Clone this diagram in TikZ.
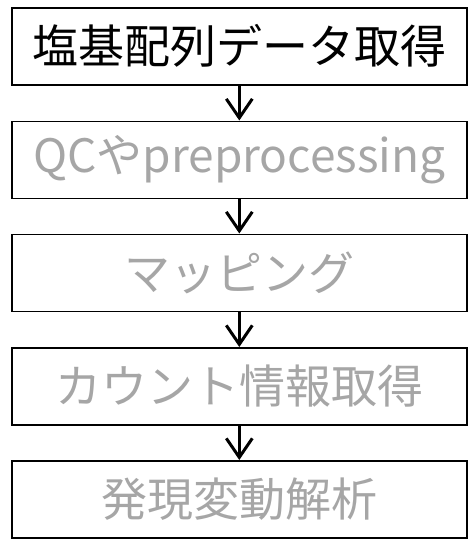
\documentclass[tikz,border=0pt]{standalone}
\usepackage{fontspec}
\setmainfont{Noto Sans CJK JP}
\usetikzlibrary{arrows.meta}
\definecolor{txtgray}{HTML}{A6A6A6}
\tikzset{
  stepbox/.style={draw=black, line width=1.6pt, minimum width=455pt, minimum height=77pt, inner sep=0pt, font=\fontsize{46}{50}\selectfont, anchor=north west},
  flowarrow/.style={line width=3pt, -{Straight Barb[length=19pt,width=26pt,line width=3pt]}}
}
\begin{document}
\begin{tikzpicture}[x=1pt,y=-1pt]
\useasboundingbox (0,0) rectangle (468,542);
\node[stepbox, text=black] (s1) at (11,7) {塩基配列データ取得};
\node[stepbox, text=txtgray] (s2) at (11,120.5) {QCやpreprocessing};
\node[stepbox, text=txtgray] (s3) at (11,233.5) {マッピング};
\node[stepbox, text=txtgray] (s4) at (11,347) {カウント情報取得};
\node[stepbox, text=txtgray] (s5) at (11,460) {発現変動解析};
\draw[flowarrow] (s1.south) -- (s2.north);
\draw[flowarrow] (s2.south) -- (s3.north);
\draw[flowarrow] (s3.south) -- (s4.north);
\draw[flowarrow] (s4.south) -- (s5.north);
\end{tikzpicture}
\end{document}
